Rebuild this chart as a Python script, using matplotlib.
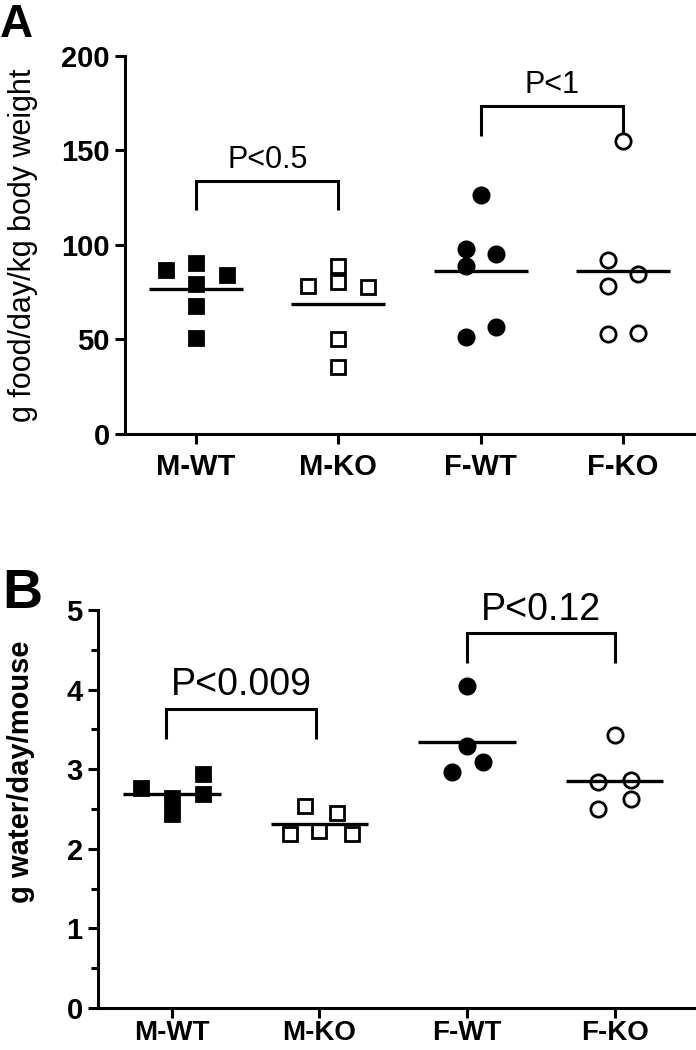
import matplotlib.pyplot as plt

plt.rcParams['font.family'] = ['Liberation Sans', 'DejaVu Sans']

groups = ['M-WT', 'M-KO', 'F-WT', 'F-KO']

# panel A: g food/day/kg body weight
food = [
    [86.8, 90.5, 84.0, 79.4, 67.7, 50.8],
    [78.3, 88.9, 80.4, 77.8, 50.3, 35.4],
    [126.5, 97.9, 95.2, 88.9, 56.6, 51.3],
    [155.0, 92.0, 84.7, 78.3, 52.9, 53.4],
]
food_jit = [
    [-0.21, 0, 0.22, 0, 0, 0],
    [-0.21, 0, 0, 0.21, 0, 0],
    [0, -0.105, 0.105, -0.105, 0.105, -0.105],
    [0, -0.105, 0.105, -0.105, -0.105, 0.105],
]
food_p = ['P<0.5', 'P<1']

# panel B: g water/day/mouse
water = [
    [2.76, 2.64, 2.44, 2.94, 2.69],
    [2.19, 2.54, 2.22, 2.45, 2.19],
    [4.05, 3.29, 3.09, 2.96],
    [3.43, 2.84, 2.86, 2.63, 2.50],
]
water_jit = [
    [-0.21, 0, 0, 0.21, 0.21],
    [-0.2, -0.1, 0, 0.12, 0.22],
    [0, 0, 0.11, -0.1],
    [0, -0.11, 0.11, 0.11, -0.11],
]
water_p = ['P<0.009', 'P<0.12']

markers = ['s', 's', 'o', 'o']
filled = [True, False, True, False]
msize = [10.5, 10.5, 11, 11]

fig = plt.figure(figsize=(6.96, 10.5), dpi=100)
axA = fig.add_axes([0.1796, 0.5867, 0.8175, 0.36])
axB = fig.add_axes([0.1408, 0.04, 0.859, 0.379])


def draw(ax, data, jit, lw=2.4):
    for i, vals in enumerate(data):
        xs = [i + j for j in jit[i]]
        ax.plot(xs, vals, linestyle='none', marker=markers[i], ms=msize[i],
                mfc='black' if filled[i] else 'white', mec='black', mew=2.0,
                zorder=3)
        m = sum(vals) / len(vals)
        ax.plot([i - 0.33, i + 0.33], [m, m], color='black', lw=lw, zorder=4,
                solid_capstyle='butt')


def bracket(ax, x0, x1, ytop, ybot, txt, fs, pad):
    ax.plot([x0, x0, x1, x1], [ybot, ytop, ytop, ybot], color='black', lw=2.2,
            solid_capstyle='butt', solid_joinstyle='miter', clip_on=False)
    ax.text((x0 + x1) / 2, ytop + pad, txt, ha='center', va='bottom',
            fontsize=fs)


for ax in (axA, axB):
    for s in ('top', 'right'):
        ax.spines[s].set_visible(False)
    for s in ('left', 'bottom'):
        ax.spines[s].set_linewidth(2.2)
    ax.tick_params(width=2.2, length=7, color='black')
    ax.set_xticks(range(4))
    ax.set_xticklabels(groups, fontweight='bold')

# A
draw(axA, food, food_jit)
axA.set_xlim(-0.5, 3.5)
axA.set_ylim(0, 200)
axA.set_yticks([0, 50, 100, 150, 200])
axA.tick_params(axis='y', labelsize=21, pad=4)
axA.tick_params(axis='x', labelsize=21, pad=7)
for t in axA.get_yticklabels():
    t.set_fontweight('bold')
axA.set_ylabel('g food/day/kg body weight', fontsize=22)
axA.yaxis.set_label_coords(-0.153, 0.5)
bracket(axA, 0, 1, 133.9, 118.5, food_p[0], 22, 3)
bracket(axA, 2, 3, 173.5, 157.7, food_p[1], 22, 3)

# B
draw(axB, water, water_jit)
axB.set_xlim(-0.5, 3.55)
axB.set_ylim(0, 5)
axB.set_yticks([0, 1, 2, 3, 4, 5])
axB.set_yticks([0.5, 1.5, 2.5, 3.5, 4.5], minor=True)
axB.tick_params(axis='y', which='minor', width=2.2, length=5)
axB.tick_params(axis='y', labelsize=21, pad=4)
axB.tick_params(axis='x', labelsize=20, pad=2)
for t in axB.get_yticklabels():
    t.set_fontweight('bold')
axB.set_ylabel('g water/day/mouse', fontsize=21, fontweight='bold')
axB.yaxis.set_label_coords(-0.105, 0.593)
bracket(axB, -0.04, 0.98, 3.76, 3.38, water_p[0], 27, 0.07)
bracket(axB, 2.0, 3.0, 4.71, 4.33, water_p[1], 27, 0.07)

fig.text(0.0, 0.9648, 'A', fontsize=33, fontweight='bold', va='baseline')
fig.text(0.003, 0.421, 'B', fontsize=40, fontweight='bold', va='baseline')

fig.savefig('out.png', dpi=100)
